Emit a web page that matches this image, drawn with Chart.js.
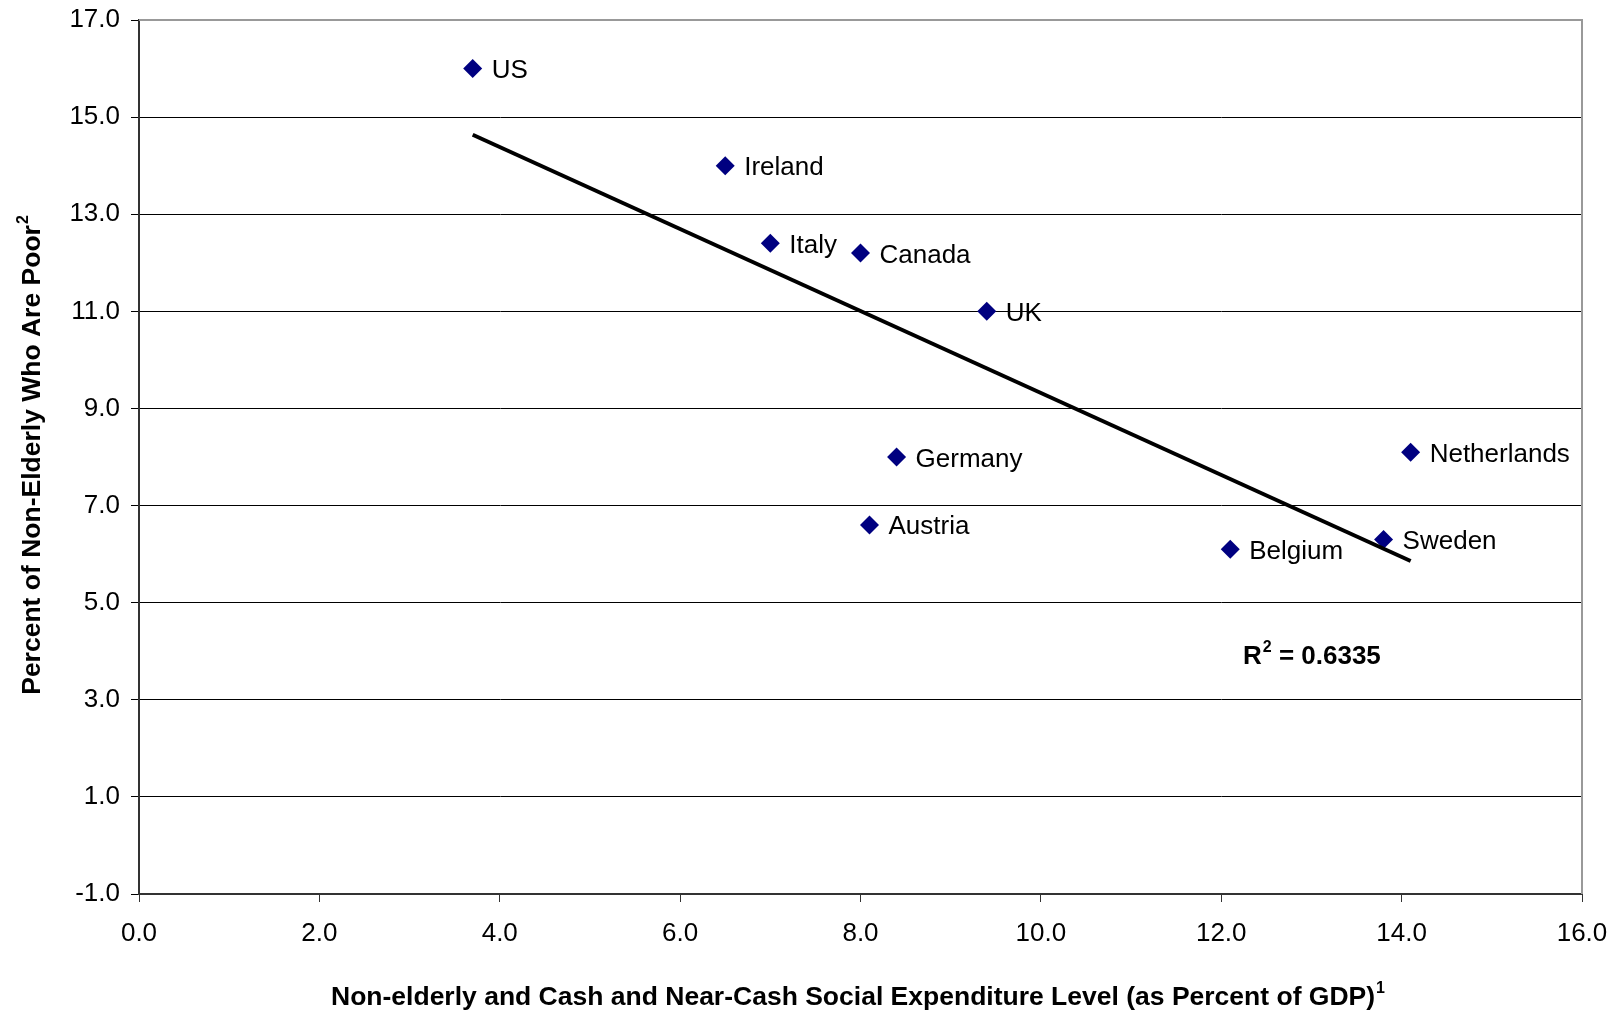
<!DOCTYPE html>
<html>
<head>
<meta charset="utf-8">
<script src="https://cdn.jsdelivr.net/npm/chart.js@4/dist/chart.umd.min.js"></script>
<style>
  html, body { margin: 0; padding: 0; background: #fff; }
  canvas { display: block; }
</style>
</head>
<body>
<canvas id="c" width="1619" height="1012"></canvas>
<script>
// Countries and their values
const countries = ['US', 'Ireland', 'Italy', 'Canada', 'UK', 'Germany', 'Austria', 'Belgium', 'Sweden', 'Netherlands'];
const spending  = [3.7, 6.5, 7.0, 8.0, 9.4, 8.4, 8.1, 12.1, 13.8, 14.1];   // % of GDP
const poverty   = [16.0, 14.0, 12.4, 12.2, 11.0, 8.0, 6.6, 6.1, 6.3, 8.1]; // % poor
const rSquaredText = '0.6335';

const xTitle = 'Non-elderly and Cash and Near-Cash Social Expenditure Level (as Percent of GDP)';
const xTitleSup = '1';
const yTitle = 'Percent of Non-Elderly Who Are Poor';
const yTitleSup = '2';

const FONT = '"Liberation Sans", Arial, Helvetica, sans-serif';

// Least-squares linear fit over the observed range
function linearFit(xs, ys) {
  const n = xs.length;
  const mx = xs.reduce((a, b) => a + b, 0) / n;
  const my = ys.reduce((a, b) => a + b, 0) / n;
  let sxy = 0, sxx = 0;
  for (let i = 0; i < n; i++) {
    sxy += (xs[i] - mx) * (ys[i] - my);
    sxx += (xs[i] - mx) * (xs[i] - mx);
  }
  const slope = sxy / sxx;
  const icept = my - slope * mx;
  const x0 = Math.min(...xs), x1 = Math.max(...xs);
  return [{ x: x0, y: icept + slope * x0 }, { x: x1, y: icept + slope * x1 }];
}

const points = spending.map((x, i) => ({ x, y: poverty[i] }));
const trend = linearFit(spending, poverty);

// Draw text followed by a raised, smaller superscript
function textWithSup(ctx, main, sup, x, baseline, size, align) {
  const supSize = Math.round(size * 0.62);
  ctx.font = 'bold ' + size + 'px ' + FONT;
  const wMain = ctx.measureText(main).width;
  ctx.font = 'bold ' + supSize + 'px ' + FONT;
  const wSup = ctx.measureText(sup).width;
  const total = wMain + 1 + wSup;
  let start = x;
  if (align === 'center') start = x - total / 2;
  ctx.textAlign = 'left';
  ctx.textBaseline = 'alphabetic';
  ctx.font = 'bold ' + size + 'px ' + FONT;
  ctx.fillText(main, start, baseline);
  ctx.font = 'bold ' + supSize + 'px ' + FONT;
  ctx.fillText(sup, start + wMain + 1, baseline - size * 0.46);
}

const decorations = {
  id: 'decorations',
  afterDatasetsDraw(chart) {
    const ctx = chart.ctx;
    const area = chart.chartArea;
    const xs = chart.scales.x, ys = chart.scales.y;
    ctx.save();

    // Top and right frame of the plot area
    ctx.strokeStyle = '#999999';
    ctx.lineWidth = 2;
    ctx.beginPath();
    ctx.moveTo(area.left, area.top);
    ctx.lineTo(area.right, area.top);
    ctx.lineTo(area.right, area.bottom);
    ctx.stroke();

    // Country labels next to each marker
    ctx.fillStyle = '#000';
    ctx.font = '26px ' + FONT;
    ctx.textAlign = 'left';
    ctx.textBaseline = 'alphabetic';
    countries.forEach((name, i) => {
      const px = xs.getPixelForValue(spending[i]);
      const py = ys.getPixelForValue(poverty[i]);
      ctx.fillText(name, px + 19, py + 9.5);
    });

    // R-squared annotation
    ctx.font = 'bold 26px ' + FONT;
    const rx = 1243, rBase = 664;
    ctx.fillText('R', rx, rBase);
    const wR = ctx.measureText('R').width;
    ctx.font = 'bold 16px ' + FONT;
    ctx.fillText('2', rx + wR + 1, rBase - 12);
    const w2 = ctx.measureText('2').width;
    ctx.font = 'bold 26px ' + FONT;
    ctx.fillText(' = ' + rSquaredText, rx + wR + 1 + w2, rBase);

    // Axis titles
    textWithSup(ctx, xTitle, xTitleSup, 858, 1005, 26.5, 'center');
    ctx.save();
    ctx.translate(40, 455);
    ctx.rotate(-Math.PI / 2);
    textWithSup(ctx, yTitle, yTitleSup, 0, 0, 26.5, 'center');
    ctx.restore();

    ctx.restore();
  }
};

new Chart(document.getElementById('c'), {
  type: 'scatter',
  data: {
    datasets: [
      {
        label: 'Countries',
        data: points,
        pointStyle: 'rectRot',
        pointRadius: 9.5,
        pointHoverRadius: 9.5,
        backgroundColor: '#000080',
        borderColor: '#000080',
        borderWidth: 0,
        order: 2
      },
      {
        label: 'Linear fit',
        type: 'line',
        data: trend,
        borderColor: '#000',
        borderWidth: 4,
        pointRadius: 0,
        fill: false,
        tension: 0,
        order: 1
      }
    ]
  },
  options: {
    responsive: false,
    animation: false,
    devicePixelRatio: 1,
    layout: { padding: { left: 0, top: 20, right: 37, bottom: 0 } },
    plugins: {
      legend: { display: false },
      tooltip: { enabled: false },
      title: { display: false }
    },
    scales: {
      x: {
        type: 'linear',
        min: 0,
        max: 16,
        afterFit(scale) {
          scale.height = 118;
          scale.paddingLeft = 0;
          scale.paddingRight = 0;
        },
        ticks: {
          stepSize: 2,
          color: '#000',
          padding: 16,
          font: { family: FONT, size: 26 },
          callback: v => v.toFixed(1)
        },
        grid: {
          drawOnChartArea: false,
          drawTicks: true,
          tickLength: 8,
          tickColor: '#333',
          tickWidth: 1
        },
        border: { display: true, color: '#333', width: 2 }
      },
      y: {
        type: 'linear',
        min: -1,
        max: 17,
        afterFit(scale) {
          scale.width = 139;
          scale.paddingTop = 0;
          scale.paddingBottom = 0;
        },
        ticks: {
          stepSize: 2,
          color: '#000',
          padding: 11,
          font: { family: FONT, size: 26 },
          callback: v => v.toFixed(1)
        },
        grid: {
          color: ctx => (ctx.tick && (ctx.tick.value === 17 || ctx.tick.value === -1)) ? 'rgba(0,0,0,0)' : '#000',
          lineWidth: 1,
          drawTicks: true,
          tickLength: 8,
          tickColor: '#000',
          tickWidth: 1
        },
        border: { display: true, color: '#333', width: 2 }
      }
    }
  },
  plugins: [decorations]
});
</script>
</body>
</html>
